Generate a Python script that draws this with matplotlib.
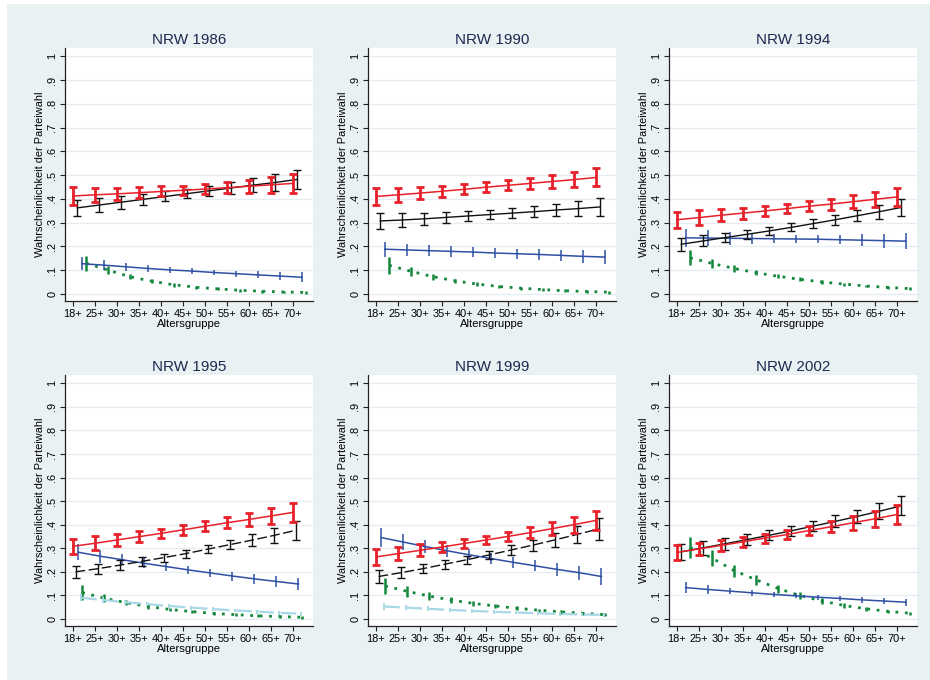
import numpy as np
import matplotlib
matplotlib.use("Agg")
import matplotlib.pyplot as plt
from matplotlib.patches import Rectangle

plt.rcParams['font.family'] = ['Liberation Sans', 'DejaVu Sans']

# Altersgruppen
altersgruppen = ['18+', '25+', '30+', '35+', '40+', '45+', '50+', '55+', '60+', '65+', '70+']

# NRW 1986
spd_1986 = [0.412, 0.417, 0.421, 0.426, 0.431, 0.436, 0.441, 0.447, 0.453, 0.459, 0.465]
spd_1986_err = [0.037, 0.030, 0.026, 0.023, 0.021, 0.020, 0.021, 0.024, 0.027, 0.033, 0.040]
cdu_1986 = [0.362, 0.374, 0.386, 0.398, 0.410, 0.422, 0.434, 0.446, 0.458, 0.469, 0.482]
cdu_1986_err = [0.035, 0.030, 0.027, 0.024, 0.021, 0.020, 0.021, 0.024, 0.028, 0.034, 0.041]
fdp_1986 = [0.127, 0.121, 0.114, 0.107, 0.101, 0.096, 0.090, 0.085, 0.080, 0.075, 0.070]
fdp_1986_err = [0.027, 0.020, 0.016, 0.013, 0.012, 0.012, 0.012, 0.013, 0.015, 0.017, 0.020]
gru_1986 = [0.129, 0.100, 0.072, 0.053, 0.038, 0.028, 0.021, 0.015, 0.011, 0.008, 0.006]
gru_1986_err = [0.032, 0.018, 0.011, 0.008, 0.007, 0.006, 0.006, 0.006, 0.006, 0.006, 0.006]

# NRW 1990
spd_1990 = [0.410, 0.417, 0.424, 0.432, 0.440, 0.449, 0.457, 0.465, 0.473, 0.481, 0.490]
spd_1990_err = [0.034, 0.030, 0.026, 0.023, 0.021, 0.020, 0.021, 0.023, 0.027, 0.032, 0.038]
cdu_1990 = [0.307, 0.311, 0.316, 0.322, 0.328, 0.334, 0.340, 0.346, 0.353, 0.359, 0.366]
cdu_1990_err = [0.033, 0.030, 0.026, 0.023, 0.021, 0.020, 0.021, 0.024, 0.027, 0.032, 0.037]
fdp_1990 = [0.188, 0.185, 0.182, 0.179, 0.176, 0.172, 0.169, 0.166, 0.162, 0.158, 0.155]
fdp_1990_err = [0.032, 0.027, 0.024, 0.022, 0.021, 0.020, 0.021, 0.022, 0.024, 0.027, 0.030]
gru_1990 = [0.120, 0.095, 0.072, 0.055, 0.041, 0.031, 0.024, 0.018, 0.013, 0.010, 0.007]
gru_1990_err = [0.035, 0.020, 0.013, 0.009, 0.007, 0.006, 0.006, 0.006, 0.006, 0.006, 0.006]

# NRW 1994
spd_1994 = [0.312, 0.321, 0.331, 0.340, 0.349, 0.359, 0.369, 0.378, 0.388, 0.398, 0.408]
spd_1994_err = [0.034, 0.030, 0.026, 0.023, 0.021, 0.020, 0.021, 0.023, 0.027, 0.032, 0.037]
cdu_1994 = [0.209, 0.223, 0.237, 0.251, 0.265, 0.280, 0.296, 0.312, 0.329, 0.346, 0.364]
cdu_1994_err = [0.027, 0.023, 0.020, 0.018, 0.017, 0.017, 0.018, 0.020, 0.024, 0.029, 0.037]
fdp_1994 = [0.236, 0.235, 0.234, 0.233, 0.232, 0.231, 0.230, 0.228, 0.226, 0.224, 0.222]
fdp_1994_err = [0.038, 0.032, 0.028, 0.022, 0.018, 0.017, 0.017, 0.019, 0.024, 0.030, 0.035]
gru_1994 = [0.152, 0.128, 0.107, 0.089, 0.074, 0.061, 0.050, 0.041, 0.033, 0.027, 0.022]
gru_1994_err = [0.032, 0.020, 0.014, 0.011, 0.009, 0.008, 0.007, 0.006, 0.006, 0.006, 0.006]

# NRW 1995
spd_1995 = [0.308, 0.321, 0.335, 0.349, 0.363, 0.378, 0.393, 0.408, 0.422, 0.437, 0.452]
spd_1995_err = [0.033, 0.029, 0.025, 0.022, 0.020, 0.020, 0.021, 0.024, 0.028, 0.033, 0.040]
cdu_1995 = [0.200, 0.213, 0.228, 0.244, 0.260, 0.277, 0.296, 0.315, 0.334, 0.354, 0.376]
cdu_1995_err = [0.025, 0.022, 0.020, 0.018, 0.017, 0.017, 0.018, 0.020, 0.026, 0.032, 0.040]
fdp_1995 = [0.283, 0.266, 0.251, 0.236, 0.222, 0.208, 0.195, 0.182, 0.170, 0.159, 0.148]
fdp_1995_err = [0.035, 0.028, 0.024, 0.021, 0.019, 0.018, 0.018, 0.019, 0.021, 0.024, 0.027]
and_1995 = [0.090, 0.080, 0.071, 0.063, 0.055, 0.048, 0.042, 0.036, 0.031, 0.026, 0.022]
and_1995_err = [0.016, 0.013, 0.011, 0.010, 0.009, 0.008, 0.008, 0.008, 0.008, 0.008, 0.009]
gru_1995 = [0.112, 0.088, 0.069, 0.053, 0.040, 0.031, 0.023, 0.018, 0.013, 0.010, 0.007]
gru_1995_err = [0.032, 0.018, 0.012, 0.009, 0.007, 0.006, 0.006, 0.006, 0.006, 0.006, 0.006]

# NRW 1999
spd_1999 = [0.263, 0.277, 0.291, 0.305, 0.320, 0.335, 0.350, 0.366, 0.383, 0.400, 0.418]
spd_1999_err = [0.033, 0.029, 0.025, 0.022, 0.019, 0.018, 0.019, 0.023, 0.028, 0.034, 0.040]
cdu_1999 = [0.180, 0.196, 0.213, 0.232, 0.251, 0.271, 0.292, 0.313, 0.335, 0.358, 0.382]
cdu_1999_err = [0.027, 0.023, 0.020, 0.019, 0.018, 0.018, 0.020, 0.023, 0.029, 0.036, 0.045]
fdp_1999 = [0.345, 0.326, 0.307, 0.289, 0.272, 0.256, 0.240, 0.225, 0.210, 0.196, 0.180]
fdp_1999_err = [0.040, 0.033, 0.028, 0.025, 0.023, 0.022, 0.022, 0.023, 0.026, 0.030, 0.036]
and_1999 = [0.053, 0.048, 0.043, 0.038, 0.034, 0.030, 0.027, 0.024, 0.021, 0.019, 0.017]
and_1999_err = [0.014, 0.012, 0.010, 0.009, 0.008, 0.008, 0.008, 0.008, 0.008, 0.008, 0.008]
gru_1999 = [0.140, 0.117, 0.097, 0.080, 0.066, 0.055, 0.045, 0.037, 0.030, 0.024, 0.018]
gru_1999_err = [0.035, 0.022, 0.016, 0.012, 0.010, 0.009, 0.008, 0.007, 0.007, 0.006, 0.006]

# NRW 2002
spd_2002 = [0.282, 0.297, 0.312, 0.327, 0.343, 0.358, 0.375, 0.391, 0.408, 0.425, 0.443]
spd_2002_err = [0.030, 0.026, 0.023, 0.021, 0.019, 0.019, 0.020, 0.024, 0.029, 0.035, 0.042]
cdu_2002 = [0.285, 0.302, 0.319, 0.337, 0.355, 0.374, 0.394, 0.414, 0.435, 0.457, 0.480]
cdu_2002_err = [0.033, 0.029, 0.025, 0.023, 0.022, 0.021, 0.022, 0.025, 0.029, 0.034, 0.040]
fdp_2002 = [0.133, 0.125, 0.118, 0.111, 0.104, 0.098, 0.092, 0.087, 0.081, 0.076, 0.071]
fdp_2002_err = [0.025, 0.018, 0.014, 0.012, 0.011, 0.011, 0.011, 0.012, 0.013, 0.014, 0.015]
gru_2002 = [0.303, 0.258, 0.205, 0.166, 0.129, 0.099, 0.076, 0.057, 0.043, 0.032, 0.024]
gru_2002_err = [0.045, 0.035, 0.025, 0.020, 0.017, 0.014, 0.012, 0.010, 0.009, 0.008, 0.007]

ROT = '#e8202a'
SCHWARZ = '#111111'
BLAU = '#2e4fa3'
GRUEN = '#13873c'
HELLBLAU = '#a8d8e6'

x = np.arange(len(altersgruppen))


def zeichne(ax, titel, spd, cdu, fdp, gru, andere=None, cdu_gestrichelt=False):
    s, se = spd
    c, ce = cdu
    f, fe = fdp
    g, ge = gru
    if andere is None:
        off = {'spd': 0.0, 'cdu': 0.2, 'fdp': 0.4, 'gru': 0.6}
    else:
        off = {'spd': 0.0, 'cdu': 0.12, 'fdp': 0.25, 'and': 0.38, 'gru': 0.42}

    # Gruene: gepunktet
    ax.plot(x + off['gru'], g, color=GRUEN, lw=2, ls=(0, (1, 2.4)), zorder=3)
    ax.errorbar(x + off['gru'], g, yerr=ge, fmt='none', ecolor=GRUEN, elinewidth=1.8, capsize=0, zorder=3)

    if andere is not None:
        a, ae = andere
        ax.plot(x + off['and'], a, color=HELLBLAU, lw=1.6, ls=(0, (7, 3)), zorder=3)
        ax.errorbar(x + off['and'], a, yerr=ae, fmt='none', ecolor=HELLBLAU, elinewidth=1.4, capsize=0, zorder=3)

    ax.plot(x + off['fdp'], f, color=BLAU, lw=1.1, zorder=4)
    ax.errorbar(x + off['fdp'], f, yerr=fe, fmt='none', ecolor=BLAU, elinewidth=1.1, capsize=0, zorder=4)

    ls_cdu = (0, (7, 2.5)) if cdu_gestrichelt else '-'
    ax.plot(x + off['cdu'], c, color=SCHWARZ, lw=1.0, ls=ls_cdu, zorder=5)
    ax.errorbar(x + off['cdu'], c, yerr=ce, fmt='none', ecolor=SCHWARZ, elinewidth=1.0,
                capsize=2.8, capthick=1.0, zorder=5)

    ax.plot(x + off['spd'], s, color=ROT, lw=1.1, zorder=6)
    ax.errorbar(x + off['spd'], s, yerr=se, fmt='none', ecolor=ROT, elinewidth=2.0,
                capsize=3.2, capthick=2.0, zorder=6)

    ax.set_xlim(-0.36, 10.91)
    ax.set_ylim(-0.03, 1.035)
    ax.set_xticks(x)
    ax.set_xticklabels(altersgruppen, fontsize=7.9)
    yt = np.round(np.arange(0, 1.01, 0.1), 1)
    ax.set_yticks(yt)
    ax.set_yticklabels(['0'] + ['.%d' % i for i in range(1, 10)] + ['1'], fontsize=7.9,
                       rotation=90, va='center')
    ax.yaxis.grid(True, color='#e4edf0', lw=1.0)
    ax.set_axisbelow(True)
    for sp in ['top', 'right']:
        ax.spines[sp].set_visible(False)
    for sp in ['left', 'bottom']:
        ax.spines[sp].set_color('#222222')
        ax.spines[sp].set_linewidth(0.9)
    ax.tick_params(direction='out', length=3.5, width=0.8, color='#222222', pad=2)
    ax.set_xlabel('Altersgruppe', fontsize=8.1, labelpad=0)
    ax.set_ylabel('Wahrscheinlichkeit der Parteiwahl', fontsize=7.9, labelpad=2)
    ax.set_title(titel, fontsize=11, color='#1c2a50', pad=3)


fig = plt.figure(figsize=(9.3, 6.8), dpi=100, facecolor='white')
fig.patches.append(Rectangle((7 / 930, 0), 1, 676 / 680, transform=fig.transFigure,
                             facecolor='#e9f1f3', edgecolor='none', zorder=-10))

W, H = 930, 680
breite = 248 / W
oben_unten = (H - 301) / H
unten_unten = (H - 626) / H
hoehe_o = 253 / H
hoehe_u = 251 / H
links = [65 / W, 368 / W, 669 / W]

ax1 = fig.add_axes([links[0], oben_unten, breite, hoehe_o])
ax2 = fig.add_axes([links[1], oben_unten, breite, hoehe_o])
ax3 = fig.add_axes([links[2], oben_unten, breite, hoehe_o])
ax4 = fig.add_axes([links[0], unten_unten, breite, hoehe_u])
ax5 = fig.add_axes([links[1], unten_unten, breite, hoehe_u])
ax6 = fig.add_axes([links[2], unten_unten, breite, hoehe_u])

zeichne(ax1, 'NRW 1986', (spd_1986, spd_1986_err), (cdu_1986, cdu_1986_err),
        (fdp_1986, fdp_1986_err), (gru_1986, gru_1986_err))
zeichne(ax2, 'NRW 1990', (spd_1990, spd_1990_err), (cdu_1990, cdu_1990_err),
        (fdp_1990, fdp_1990_err), (gru_1990, gru_1990_err))
zeichne(ax3, 'NRW 1994', (spd_1994, spd_1994_err), (cdu_1994, cdu_1994_err),
        (fdp_1994, fdp_1994_err), (gru_1994, gru_1994_err))
zeichne(ax4, 'NRW 1995', (spd_1995, spd_1995_err), (cdu_1995, cdu_1995_err),
        (fdp_1995, fdp_1995_err), (gru_1995, gru_1995_err),
        andere=(and_1995, and_1995_err), cdu_gestrichelt=True)
zeichne(ax5, 'NRW 1999', (spd_1999, spd_1999_err), (cdu_1999, cdu_1999_err),
        (fdp_1999, fdp_1999_err), (gru_1999, gru_1999_err),
        andere=(and_1999, and_1999_err), cdu_gestrichelt=True)
zeichne(ax6, 'NRW 2002', (spd_2002, spd_2002_err), (cdu_2002, cdu_2002_err),
        (fdp_2002, fdp_2002_err), (gru_2002, gru_2002_err))

fig.savefig('out.png', dpi=100, facecolor=fig.get_facecolor())
